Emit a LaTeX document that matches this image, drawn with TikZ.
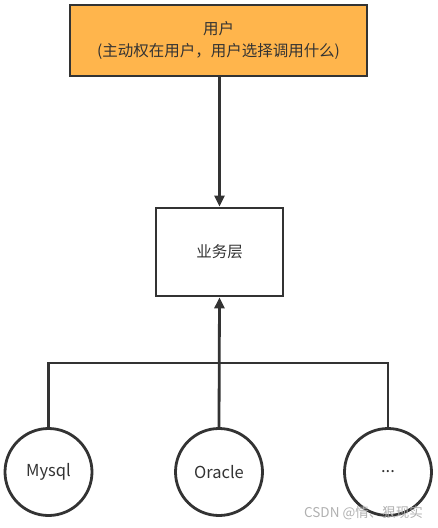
\documentclass[tikz,border=0pt]{standalone}
\usepackage{fontspec}
\setmainfont{Noto Sans CJK SC}
\usetikzlibrary{arrows.meta}
\definecolor{linec}{HTML}{333333}
\definecolor{orangefill}{HTML}{FFB54C}
\definecolor{wmark}{HTML}{B0B0B0}
\tikzset{
  line/.style={draw=linec, line width=2.8pt},
  arr/.style={line, -{Triangle[width=10pt,length=11pt]}},
  box/.style={line, rectangle, inner sep=0pt, align=center, text=linec, font=\fontsize{15.5}{22}\selectfont},
  db/.style={line, circle, inner sep=0pt, minimum size=87pt, text=linec, font=\fontsize{16.5}{18}\selectfont},
}
\begin{document}
\begin{tikzpicture}[x=1pt,y=-1pt]
\useasboundingbox (0,0) rectangle (438,528);
\node[box, fill=orangefill, minimum width=297pt, minimum height=71pt] (user) at (218.5,40.5) {用户\\(主动权在用户，用户选择调用什么)};
\node[box, fill=white, minimum width=127pt, minimum height=88pt] (biz) at (219.5,252) {业务层};
\node[db] (mysql) at (48.5,472) {Mysql};
\node[db] (oracle) at (219,472) {Oracle};
\node[db] (more) at (388,472) {...};
\coordinate (j) at (219,363);
\coordinate (jl) at (48.5,363);
\coordinate (jr) at (388,363);
\draw[arr] (user.south -| biz.north) -- (biz.north);
\draw[line] (mysql.north) -- (jl) -- (jr) -- (more.north);
\draw[arr] (oracle.north) -- (biz.south);
\node[text=wmark, font=\fontsize{13.5}{15}\selectfont, anchor=east, inner sep=0pt] (wm) at (423,513) {CSDN @情、狠现实};
\end{tikzpicture}
\end{document}
